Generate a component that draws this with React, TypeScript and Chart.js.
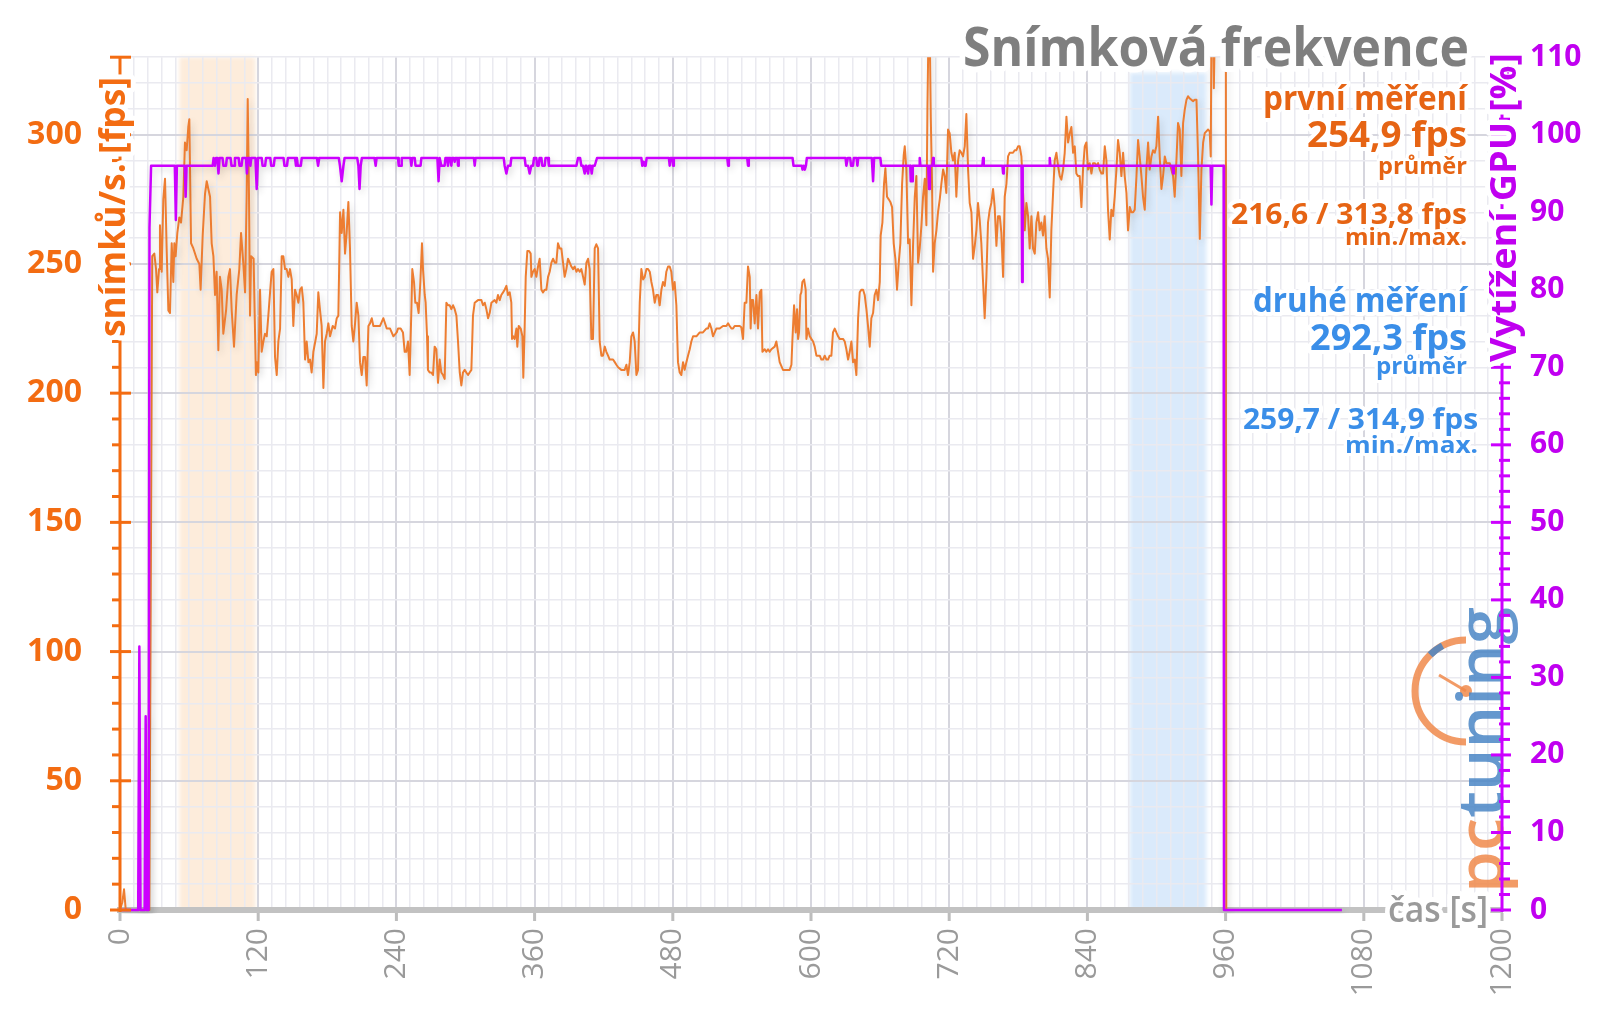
import React, { useEffect, useRef } from 'react';
import { Chart, registerables } from 'chart.js';

Chart.register(...registerables);

// ---------- data ----------
// frame rate [fps] : [time s, value]
const fpsData: [number, number][] = [
  [0, 0], [2, 3], [3.5, 8], [5, 0], [25.5, 0], [28, 253], [29.8, 254], [31.3, 248], [32.4, 239], [33.9, 248], [34.7, 265], [36.2, 247], [37.6, 275], [39.1, 283], [40.5, 256], [42, 232], [43.4, 231], [44.9, 258], [46.3, 243], [47.2, 258], [48.3, 253], [49.8, 262], [51.5, 268], [53, 266], [55, 276], [56.4, 297], [57.9, 294], [59.3, 303], [60.2, 306], [61.7, 258], [63.7, 256], [66.6, 252], [68.9, 250], [70, 240], [71.8, 261], [73.8, 277], [75.3, 282], [76.7, 279], [78.2, 276], [79.6, 258], [81.1, 253], [82.5, 238], [83.9, 247], [85.4, 216.6], [86.8, 245], [88.3, 240], [89.7, 223], [92.1, 232], [94.1, 245], [95.5, 248], [97, 232], [99, 218], [101.3, 238], [103.6, 248], [105.1, 262], [107.1, 250], [108.6, 239], [110, 277], [110.9, 313.8], [112, 277], [112.9, 230], [113.8, 253], [116, 252], [118, 207], [118.9, 212], [120.1, 208], [121.6, 240], [123, 216], [124.5, 220], [125.9, 223], [127.4, 222], [128.8, 230], [130.3, 239], [131.7, 247], [133.2, 248], [134.6, 214], [136.1, 207], [137.5, 220], [139, 225], [140.4, 253], [141.8, 253], [143.3, 248], [144.7, 248], [146.2, 245], [147.6, 248], [149.1, 244], [150.5, 226], [152, 240], [153.4, 238], [154.9, 235], [156.3, 240], [157.8, 241], [159.2, 235], [160.7, 213], [162.1, 220], [163.6, 212], [165, 213], [166.4, 208], [167.9, 216], [170.8, 223], [172.2, 239], [173.7, 232], [175.1, 226], [176.6, 202], [178, 220], [179.5, 223], [180.9, 227], [182.4, 222], [184.7, 226], [186.7, 225], [188.2, 229], [189.6, 230], [191.1, 270], [192.5, 262], [194, 271], [195.4, 254], [196.8, 262], [198.3, 274], [199.7, 256], [201.2, 226], [202.6, 220], [204.1, 227], [205.5, 235], [207, 230], [208.4, 212], [209.9, 207], [211.3, 214], [212.8, 214], [214.2, 203], [215.7, 226], [217.1, 227], [218.6, 229], [220, 226], [222.9, 226], [225.8, 226], [228.7, 229], [231.6, 225], [234.5, 225], [237.4, 222], [240.3, 223.5],
  [241.4, 225], [243.7, 225], [245.7, 223.5], [247.2, 216], [248.6, 216], [250.1, 220], [251.5, 207], [253, 232], [253.8, 248], [255.3, 243], [256.4, 235], [257.9, 235], [259.3, 231], [260.8, 243], [262.2, 258], [263.1, 248], [264.6, 238], [265.4, 235], [266.6, 222], [267.4, 209], [268.9, 208], [270.3, 208], [271.8, 207], [273.2, 218], [274.7, 217], [276.1, 204], [277.6, 213], [279, 208], [280.5, 207], [281.9, 205.5], [283.4, 235], [284.8, 234], [286.3, 234], [287.7, 232.5], [289.2, 234], [290.6, 232.5], [292.1, 230], [293.5, 220], [295, 208], [296.4, 203], [297.8, 208], [299.3, 209], [300.7, 208], [302.2, 207], [303.6, 208], [305.1, 209], [306.5, 230], [308, 235], [310.9, 236], [313.8, 236], [315.2, 234], [316.7, 235], [318.1, 232.5], [319.6, 229], [321, 231], [322.5, 235], [325.3, 236], [326.8, 235], [328.2, 238], [329.7, 236], [331.1, 238], [332.6, 239], [334, 240], [335.5, 241.5], [336.9, 238], [338.4, 239], [339.8, 235], [340.4, 221], [341.3, 222], [342.7, 221], [344.2, 225], [345, 218], [346.2, 226], [347.9, 225], [349.4, 222], [350.2, 206], [351.4, 226], [352.3, 245], [353.7, 255], [355.2, 255], [356.6, 254], [357.2, 245], [358.6, 247], [360.1, 248], [361.5, 245], [363, 249], [364.4, 252], [365.9, 240], [367.3, 239], [368.8, 240], [370.2, 240], [371.7, 245], [373.1, 247], [374.6, 250.5], [376, 252], [377.5, 250.5], [378.9, 250.5], [380.3, 258], [381.8, 256], [383.2, 256], [384.7, 250.5], [386.1, 245], [387.6, 248], [389, 252], [390.5, 250.5], [391.9, 249], [393.4, 248], [394.8, 249], [396.3, 247], [397.7, 248], [399.2, 247], [400.6, 248], [402.1, 245], [403.5, 242], [405, 250.5], [406.4, 252], [407.8, 248], [409.3, 221], [410.7, 221], [412.2, 256], [413.6, 257.6], [415.1, 256], [416.5, 220], [418, 214.5], [419.4, 214.5], [420.9, 218], [422.3, 216], [423.8, 214.5], [425.2, 213], [426.7, 213], [428.1, 213], [429.6, 212], [431, 211], [432.5, 210], [435.3, 209], [438.2, 209], [439.7, 211], [441.1, 207], [442.6, 212], [444, 222], [445.5, 223.5], [446.9, 220], [448.4, 207], [449.8, 209], [451.3, 235], [452.7, 248], [454.2, 244], [455.6, 245], [457.1, 248], [458.5, 248], [460, 247], [461.4, 243], [462.8, 240], [464.3, 235], [465.7, 238], [467.2, 238], [468.6, 234], [470.1, 240], [471.5, 243], [473, 241.5], [474.4, 247], [475.9, 249],
  [477.3, 249], [478.7, 247], [480.2, 240], [481.6, 243], [483.1, 234], [484.5, 212], [486, 208], [487.4, 207], [488.9, 212], [490.3, 209], [491.8, 212], [493.2, 214.5], [494.7, 217], [496.1, 220], [497.6, 222], [500.5, 222], [503.4, 223.5], [506.2, 223.5], [509.1, 225], [510.6, 225], [512, 227], [513.5, 225], [514.9, 222], [516.4, 223.5], [517.8, 225], [520.7, 225], [523.6, 226], [526.5, 226], [528, 227], [529.4, 226], [530.9, 225], [532.3, 225], [533.7, 226], [535.2, 226], [538.1, 226], [539.5, 225.5], [541, 221], [542.4, 235], [543.9, 235], [545.3, 249], [546.8, 245], [547.6, 225], [548.5, 236], [549.7, 236], [551.1, 227], [552.6, 238], [554, 225], [555.5, 239], [556.9, 240], [557.8, 216], [559.8, 217], [561.2, 216], [562.7, 217], [564.1, 216], [565.6, 217], [568.5, 218], [569.9, 220], [571.4, 216], [572.8, 212], [575.7, 209], [578.6, 209], [581.5, 209], [583, 211], [583.8, 220], [585.3, 234], [586.7, 223.5], [587.9, 232.5], [588.8, 221], [589.6, 223.5], [590.8, 238], [591.6, 239], [592.5, 243], [594, 244], [595.4, 240], [596, 221], [597.4, 225], [598.9, 222], [600.3, 221], [601.8, 220], [603.2, 218], [604.7, 214.5], [606.1, 214.5], [607.6, 214.5], [609, 213], [610.5, 213], [611.9, 214.5], [613.4, 213], [614.8, 213], [616.2, 214.5], [617.7, 214.5], [619.1, 223.5], [620.6, 225], [622, 223.5], [623.5, 222], [624.9, 221], [626.4, 221], [627.8, 221], [629.3, 220], [630.7, 217], [632.2, 213], [633.6, 216], [635.1, 220], [636.5, 212], [638, 213], [639.4, 207], [640.9, 229], [642.3, 239], [643.7, 240], [645.2, 240], [646.6, 238], [648.1, 232.5], [649.5, 226], [651, 218], [652.4, 229], [653.9, 231], [655.3, 238], [656.8, 240], [658.2, 236], [659.7, 243], [660.5, 261], [662, 266], [663.4, 281], [664.6, 287], [666, 276], [667.5, 275], [668.9, 274], [670.4, 272], [671.8, 258], [673.3, 252], [674.7, 240], [676.2, 250.5], [677.6, 258], [679.1, 281], [680.5, 292], [681.4, 295.5], [682.8, 286.5], [684.3, 258], [685.7, 259.5], [687.2, 234], [688.6, 257], [690.1, 276], [691.5, 284], [693, 250.5], [694.4, 256], [695.9, 265], [697.3, 276], [698.8, 283], [700.2, 265], [701.1, 310], [702, 340], [703.1, 340], [704, 307], [705.1, 281], [706, 247], [707.4, 258], [708.9, 263], [710.3, 270], [711.8, 275], [713.2, 281], [714.7, 286.5], [716.1, 284],
  [717.5, 277.5], [719, 302], [720.4, 300.6], [721.9, 293], [723.3, 290], [724.8, 293], [726.2, 276], [727.7, 290], [729.1, 294], [730.6, 293], [732, 291.6], [733.5, 295.5], [734.9, 308], [736.4, 286.5], [737.8, 273.6], [739.3, 270], [740.7, 252], [742.2, 257], [743.6, 263], [745, 273.6], [746.5, 267], [747.9, 258], [749.4, 243], [750.8, 229], [752.3, 245], [753.7, 266], [755.2, 271], [756.6, 273.6], [758.1, 279], [759.5, 272], [761, 257], [762.4, 268.5], [763.9, 268.5], [765.3, 262], [766.8, 245], [768.2, 276], [769.7, 281], [771.1, 291.6], [772.5, 293], [774, 293], [775.4, 293], [776.9, 294], [778.3, 294], [779.8, 295.5], [781.2, 295.5], [782.7, 291.6], [785.6, 263], [787, 273.6], [788.5, 268.5], [789.9, 256], [791.4, 268.5], [792.8, 256], [794.3, 254], [795.7, 266], [797.2, 270], [798.6, 263], [800, 266], [801.5, 261], [802.9, 268.5], [804.4, 256], [805.8, 252], [807.3, 237], [808.7, 263], [810.2, 277.5], [811.6, 290], [813.1, 293], [814.5, 288], [816, 284], [817.4, 282.6], [818.9, 286.5], [820.3, 293], [821.8, 307], [823.2, 297], [824.7, 300.6], [826.1, 303], [827.6, 293], [829, 295.5], [830.4, 285], [831.9, 284], [833.3, 284], [834.8, 272], [836.2, 286.5], [837.7, 295.5], [839.1, 297], [840.6, 286.5], [842, 289], [843.5, 285], [844.9, 289], [846.4, 289], [847.8, 288], [849.3, 289], [850.7, 286.5], [852.2, 285], [853.6, 285], [855.1, 295.5], [856.5, 290], [857.9, 271], [859.4, 259.5], [860.8, 271], [862.3, 268.5], [863.7, 276], [865.2, 286.5], [866.6, 298], [868.1, 293], [869.5, 284], [871, 293], [872.4, 284], [873.9, 277.5], [875.3, 263], [876.8, 272], [878.2, 270], [879.7, 270], [881.1, 271], [882.6, 284], [884, 298], [885.4, 291.6], [886.9, 284], [888.3, 276], [889.8, 271], [891.2, 286.5], [892.7, 297], [894.1, 286.5], [895.6, 291.6], [897, 294], [898.5, 293], [899.9, 295.5], [901.4, 307], [902.8, 291.6], [904.3, 279], [905.7, 284], [907.2, 291.6], [908.6, 289], [910.1, 289], [911.5, 289], [912.9, 286.5], [914.4, 284], [915.8, 276], [917.3, 290], [918.7, 304.5], [920.2, 302], [921.6, 284], [923.1, 304.5], [924.5, 309.6], [926, 313.5], [927.4, 314.9], [928.9, 314], [930.3, 313.5], [931.8, 313], [933.2, 313.5], [934.7, 313.5], [936.1, 291.6], [937.6, 259.7], [939, 286.5], [940.5, 297], [941.9, 300.6], [943.3, 301.3], [944.8, 302], [946.2, 301.3], [947.1, 291.6], [947.7, 340], [949.2, 340], [949.8, 318], [950.6, 340], [960.2, 340], [960.6, 0],
];

// GPU load [%] : [time s, value]
const gpuData: [number, number][] = [
  [0, 0], [15.8, 0], [16.8, 34], [17.8, 0], [21.4, 0], [22.3, 25], [23.2, 0], [24.8, 0], [25.6, 88], [27, 96],
  [47.6, 96], [48.5, 89], [49.4, 96], [56.2, 96], [57, 92], [57.8, 96],
  [80.5, 96], [81.3, 97], [82.4, 96], [83.4, 97], [84.6, 97], [85.5, 95], [86.5, 97],
  [89, 97], [89.8, 96], [92, 96], [92.8, 97], [96, 97], [96.8, 96], [99, 96], [99.8, 97],
  [103, 97], [103.8, 96], [105.5, 96], [106.3, 97], [109.4, 97], [110.2, 95], [111, 97], [112.4, 97], [113.2, 96], [114, 97],
  [117.6, 97], [118.7, 93], [119.8, 97], [123, 97], [123.8, 96], [126, 96], [126.8, 97],
  [130.5, 97], [131.3, 96], [133.5, 96], [134.3, 97], [142, 97], [142.8, 96], [145, 96], [145.8, 97],
  [152, 97], [152.8, 96], [153.6, 97], [154.4, 96], [157, 96], [157.8, 97], [171, 97], [172, 96], [173, 97],
  [190, 97], [191, 96], [192.5, 94], [194, 96], [195, 97], [206, 97], [207, 96], [208, 93], [209, 96], [210, 97],
  [221, 97], [222, 96], [222.8, 97], [241.4, 97], [242, 96], [244, 96], [244.6, 97],
  [252.2, 97], [253, 96], [253.8, 97], [255.9, 97], [256.6, 96], [261, 96], [261.7, 97],
  [275.6, 97], [276.6, 94], [277.6, 97], [279, 96], [281.9, 96], [282.6, 97],
  [284, 97], [284.8, 96], [285.6, 97], [287, 97], [287.7, 96], [288.4, 97], [290, 97], [290.6, 96.5], [291.2, 97], [293, 97], [293.5, 96], [294.1, 97],
  [307.3, 97], [308, 96], [308.7, 97], [333.2, 97], [334, 96], [335.5, 95], [336.9, 96], [339, 96], [339.8, 97],
  [351.4, 97], [352.2, 96], [354.3, 96], [355.7, 95], [357.2, 96], [358.6, 96], [359.5, 97], [361.5, 97], [362.2, 96], [363.5, 96], [364.3, 97], [365.9, 97], [366.6, 96], [368.8, 96], [369.5, 97], [371.7, 97], [372.4, 96],
  [396.3, 96], [397.7, 97], [399.5, 97], [400.6, 96], [402, 96], [403.5, 95], [404.3, 96], [405, 96], [406.4, 95], [407.3, 96], [408.7, 96], [409.6, 95], [410.5, 96], [412.2, 96], [414.2, 97],
  [452.7, 97], [453.5, 96], [454.8, 96.5], [455.6, 96], [456.4, 96], [457.3, 97], [476.6, 97], [477.3, 96], [478, 97],
  [479.6, 97], [480.2, 96], [480.9, 97], [527.3, 97], [528, 96], [528.7, 97], [544.6, 97], [545.3, 96], [546, 97],
  [584, 97], [584.8, 96], [591, 96], [592, 96], [592.6, 95.5], [593.6, 96], [594.6, 95.5], [595.6, 96], [596.4, 97],
  [630, 97], [630.7, 96], [632, 97], [634, 97], [634.8, 96], [636.4, 96], [637.2, 97], [639.6, 97], [640.3, 96], [641, 97],
  [652.8, 97], [653.9, 94], [654.8, 97], [660.2, 97], [661, 96],
  [686.2, 96], [686.6, 94], [688, 94], [688.4, 96], [693.8, 96], [694.4, 97], [695, 96],
  [701.8, 96], [702.5, 93], [703.2, 96], [705.4, 96], [706, 97], [706.6, 96],
  [748.8, 96], [749.4, 97], [750, 96], [766.2, 96], [766.8, 95], [767.4, 96], [782.8, 96], [783.3, 81], [783.8, 96],
  [806.7, 96], [807.3, 97], [807.9, 96], [913.8, 96], [914.4, 95], [915, 96], [947, 96], [947.7, 91], [948.4, 96],
  [958.3, 96], [958.6, 0], [1061, 0],
];

// highlighted measurement windows: [start s, end s, top fps]
const firstWindow = [51.5, 117.5, 330];
const secondWindow = [876.8, 943.3, 324];

// axes
const timeLabels = [0, 120, 240, 360, 480, 600, 720, 840, 960, 1080, 1200];
const fpsLabels = [0, 50, 100, 150, 200, 250, 300];
const gpuLabels = [0, 10, 20, 30, 40, 50, 60, 70, 80, 90, 100, 110];

// texts
const chartTitle = 'Snímková frekvence';
const xTitle = 'čas [s]';
const yTitle = 'snímků/s. [fps]';
const y2Title = 'Vytížení GPU [%]';
const firstTexts = ['první měření', '254,9 fps', 'průměr', '216,6 / 313,8 fps', 'min./max.'];
const secondTexts = ['druhé měření', '292,3 fps', 'průměr', '259,7 / 314,9 fps', 'min./max.'];

// ---------- styles ----------
const FONT = "'Open Sans', 'DejaVu Sans', sans-serif";
const C_LINE_ORANGE = '#ed7d31';
const C_MAGENTA = '#cc00ff';
const C_AXIS_ORANGE = '#f36c12';
const C_TEXT_ORANGE = '#e66414';
const C_TEXT_BLUE = '#3a8ee8';
const C_LABEL_MAGENTA = '#c000f0';

type TOpts = { size: number; weight?: number; color: string; align?: 'left' | 'right' | 'center'; width?: number; halo?: number; rot?: boolean };

function drawText(ctx: CanvasRenderingContext2D, s: string, x: number, y: number, o: TOpts) {
  ctx.save();
  ctx.font = `${o.weight ?? 700} ${o.size}px ${FONT}`;
  ctx.textBaseline = 'alphabetic';
  ctx.textAlign = 'left';
  const w = ctx.measureText(s).width;
  const sx = o.width ? o.width / w : 1;
  const W = w * sx;
  ctx.translate(x, y);
  if (o.rot) ctx.rotate(-Math.PI / 2);
  const x0 = o.align === 'right' ? -W : o.align === 'center' ? -W / 2 : 0;
  ctx.translate(x0, 0);
  ctx.scale(sx, 1);
  if (o.halo) {
    ctx.lineJoin = 'round';
    ctx.strokeStyle = '#ffffff';
    ctx.lineWidth = o.halo;
    ctx.strokeText(s, 0, 0);
  }
  ctx.fillStyle = o.color;
  ctx.fillText(s, 0, 0);
  ctx.restore();
}

function drawLogo(ctx: CanvasRenderingContext2D) {
  ctx.save();
  ctx.globalAlpha = 0.85;
  const cx = 1466, cy = 691, r = 51;
  const orange = '#f08a4b', blue = '#4a86c5';
  ctx.lineWidth = 7;
  ctx.strokeStyle = orange;
  ctx.beginPath(); ctx.arc(cx, cy, r, -Math.PI / 2, Math.PI / 2, true); ctx.stroke();
  ctx.strokeStyle = blue;
  ctx.beginPath(); ctx.arc(cx, cy, r, -2.35, -2.05); ctx.stroke();
  ctx.strokeStyle = orange; ctx.lineWidth = 3;
  ctx.beginPath(); ctx.moveTo(cx, cy); ctx.lineTo(cx - 27, cy - 16); ctx.stroke();
  ctx.fillStyle = orange;
  ctx.beginPath(); ctx.arc(cx, cy, 6, 0, Math.PI * 2); ctx.fill();
  ctx.translate(1503, 893);
  ctx.rotate(-Math.PI / 2);
  ctx.font = `600 64px ${FONT}`;
  const wp = ctx.measureText('pc').width, wt = ctx.measureText('tuning').width;
  ctx.scale(286 / (wp + wt), 1);
  ctx.fillStyle = orange; ctx.fillText('pc', 0, 0);
  ctx.fillStyle = blue; ctx.fillText('tuning', wp, 0);
  ctx.restore();
}

const bandsPlugin = {
  id: 'bands',
  beforeDraw(chart: any) {
    const { ctx, chartArea: a, scales } = chart;
    const x = scales.x, y = scales.y;
    ctx.save();
    ctx.filter = 'blur(2px)';
    const bands: [number[], string][] = [[firstWindow, 'rgba(251, 212, 175, 0.45)'], [secondWindow, 'rgba(168, 204, 246, 0.42)']];
    for (const [b, col] of bands) {
      const x1 = x.getPixelForValue(b[0]), x2 = x.getPixelForValue(b[1]);
      const top = Math.max(a.top, y.getPixelForValue(b[2]));
      ctx.fillStyle = col;
      ctx.fillRect(x1, top, x2 - x1, a.bottom - top);
    }
    ctx.restore();
  },
};

const shadowPlugin = {
  id: 'lineShadow',
  beforeDatasetDraw(chart: any) {
    const ctx = chart.ctx;
    ctx.save();
    ctx.shadowColor = 'rgba(0,0,0,0.16)';
    ctx.shadowBlur = 7;
    ctx.shadowOffsetX = 2;
    ctx.shadowOffsetY = 3;
  },
  afterDatasetDraw(chart: any) {
    chart.ctx.restore();
  },
};

const decorPlugin = {
  id: 'decor',
  afterDatasetsDraw(chart: any) {
    const { ctx, chartArea: a, scales } = chart;
    const x = scales.x, y = scales.y, y2 = scales.y2;
    ctx.save();
    const seg = (x1: number, y1: number, x2: number, y2_: number) => { ctx.beginPath(); ctx.moveTo(x1, y1); ctx.lineTo(x2, y2_); ctx.stroke(); };
    // x ticks
    ctx.strokeStyle = '#bdbdbd'; ctx.lineWidth = 3;
    for (const v of timeLabels) { const px = x.getPixelForValue(v); seg(px, a.bottom + 3, px, a.bottom + 11); }
    ctx.restore();
  },
  afterDraw(chart: any) {
    const { ctx, chartArea: a, scales } = chart;
    const y = scales.y, y2 = scales.y2;
    // x axis title
    drawText(ctx, xTitle, 1488, 922, { size: 36, weight: 600, color: '#9a9a9a', align: 'right', width: 100, halo: 10 });
    // watermark logo
    drawLogo(ctx);
    // y axes lines and ticks
    ctx.save();
    const seg = (x1: number, y1: number, x2: number, y2_: number) => { ctx.beginPath(); ctx.moveTo(x1, y1); ctx.lineTo(x2, y2_); ctx.stroke(); };
    ctx.strokeStyle = C_AXIS_ORANGE; ctx.lineWidth = 3;
    seg(a.left, a.bottom + 2, a.left, a.top);
    for (const t of y.ticks) {
      const py = y.getPixelForValue(t.value);
      if (t.value % 50 === 0 || t.value === 330) seg(a.left - 10, py, a.left + 11, py);
      else seg(a.left - 8, py, a.left, py);
    }
    ctx.strokeStyle = C_MAGENTA; ctx.lineWidth = 3;
    seg(a.right, a.bottom + 2, a.right, a.top);
    for (let v = 0; v <= 110; v += 2) {
      const py = y2.getPixelForValue(v);
      if (v % 10 === 0) seg(a.right - 11, py, a.right + 9, py);
      else seg(a.right - 3, py, a.right + 8, py);
    }
    ctx.restore();
    // y axis titles
    drawText(ctx, yTitle, 125, 207, { size: 35, color: C_AXIS_ORANGE, align: 'center', width: 260, halo: 10, rot: true });
    drawText(ctx, y2Title, 1516, 207.5, { size: 36, color: C_LABEL_MAGENTA, align: 'center', width: 309, halo: 10, rot: true });
    // chart title
    drawText(ctx, chartTitle, 1469, 66, { size: 54, color: '#7f7f7f', align: 'right', width: 506, halo: 12 });
    // annotations
    const R1 = 1467;
    drawText(ctx, firstTexts[0], R1, 110, { size: 34, color: C_TEXT_ORANGE, align: 'right', width: 204, halo: 8 });
    drawText(ctx, firstTexts[1], R1, 146.7, { size: 36, color: C_TEXT_ORANGE, align: 'right', width: 160, halo: 8 });
    drawText(ctx, firstTexts[2], R1, 174, { size: 23, color: C_TEXT_ORANGE, align: 'right', width: 89, halo: 6 });
    drawText(ctx, firstTexts[3], R1, 224, { size: 29, color: C_TEXT_ORANGE, align: 'right', width: 236, halo: 8 });
    drawText(ctx, firstTexts[4], R1, 245, { size: 24, color: C_TEXT_ORANGE, align: 'right', width: 122, halo: 6 });
    drawText(ctx, secondTexts[0], R1, 311.7, { size: 34, color: C_TEXT_BLUE, align: 'right', width: 214, halo: 8 });
    drawText(ctx, secondTexts[1], R1, 350, { size: 36, color: C_TEXT_BLUE, align: 'right', width: 157, halo: 8 });
    drawText(ctx, secondTexts[2], R1, 374, { size: 23, color: C_TEXT_BLUE, align: 'right', width: 91, halo: 6 });
    drawText(ctx, secondTexts[3], 1478, 428.5, { size: 29, color: C_TEXT_BLUE, align: 'right', width: 235, halo: 8 });
    drawText(ctx, secondTexts[4], 1478, 452.5, { size: 24, color: C_TEXT_BLUE, align: 'right', width: 133, halo: 6 });
  },
};

export default function App() {
  const ref = useRef<HTMLCanvasElement | null>(null);
  useEffect(() => {
    if (!ref.current) return;
    const chart = new Chart(ref.current, {
      type: 'line',
      data: {
        datasets: [
          {
            label: 'Vytížení GPU',
            data: gpuData.map(([x, y]) => ({ x, y })),
            yAxisID: 'y2',
            borderColor: C_MAGENTA,
            borderWidth: 2.5,
            pointRadius: 0,
            tension: 0,
            borderJoinStyle: 'round',
            clip: { left: 4, top: 0, right: 4, bottom: 4 },
          },
          {
            label: 'Snímková frekvence',
            data: fpsData.map(([x, y]) => ({ x, y })),
            yAxisID: 'y',
            borderColor: C_LINE_ORANGE,
            borderWidth: 2,
            pointRadius: 0,
            tension: 0,
            borderJoinStyle: 'round',
            clip: { left: 4, top: 0, right: 4, bottom: 4 },
          },
        ],
      } as any,
      options: {
        animation: false,
        responsive: false,
        devicePixelRatio: 1,
        layout: { padding: { top: 54, left: 0, right: 0, bottom: 0 } },
        plugins: { legend: { display: false }, title: { display: false }, tooltip: { enabled: false } },
        scales: {
          x: {
            type: 'linear',
            min: 0,
            max: 1200,
            afterFit: (s: any) => { s.height = 99; },
            ticks: {
              stepSize: 12,
              autoSkip: false,
              minRotation: 90,
              maxRotation: 90,
              padding: 18,
              color: '#9a9a9a',
              font: { family: FONT, size: 30, weight: 'normal' },
              callback: (v: any) => (timeLabels.includes(Math.round(v)) ? String(Math.round(v)) : ''),
            },
            grid: {
              drawTicks: false,
              color: (c: any) => (timeLabels.includes(Math.round(c.tick.value)) ? '#d6d6de' : '#eaeaf0'),
              lineWidth: (c: any) => (timeLabels.includes(Math.round(c.tick.value)) ? 2 : 1.5),
            },
            border: { display: true, color: '#c2c2c2', width: 6 },
          },
          y: {
            type: 'linear',
            position: 'left',
            min: 0,
            max: 330,
            afterFit: (s: any) => { s.width = 120; },
            ticks: {
              stepSize: 10,
              autoSkip: false,
              padding: 38,
              color: C_AXIS_ORANGE,
              font: { family: FONT, size: 32, weight: 'bold' },
              callback: (v: any) => (fpsLabels.includes(Math.round(v)) ? String(Math.round(v)) : ''),
            },
            grid: {
              drawTicks: false,
              color: (c: any) => (fpsLabels.includes(Math.round(c.tick.value)) ? '#d6d6de' : '#eaeaf0'),
              lineWidth: (c: any) => (fpsLabels.includes(Math.round(c.tick.value)) ? 2 : 1.5),
            },
            border: { display: false },
          },
          y2: {
            type: 'linear',
            position: 'right',
            min: 0,
            max: 110,
            afterFit: (s: any) => { s.width = 98; },
            ticks: {
              stepSize: 10,
              autoSkip: false,
              padding: 28,
              color: C_LABEL_MAGENTA,
              font: { family: FONT, size: 30, weight: 'bold' },
              callback: (v: any) => (gpuLabels.includes(Math.round(v)) ? String(Math.round(v)) : ''),
            },
            grid: { display: false, drawTicks: false },
            border: { display: false },
          },
        },
      } as any,
      plugins: [bandsPlugin, shadowPlugin, decorPlugin],
    });
    return () => chart.destroy();
  }, []);

  return (
    <div style={{ position: 'fixed', left: 0, top: 0, width: 1600, height: 1009, background: '#fff' }}>
      <canvas ref={ref} width={1600} height={1009} style={{ display: 'block' }} />
    </div>
  );
}
